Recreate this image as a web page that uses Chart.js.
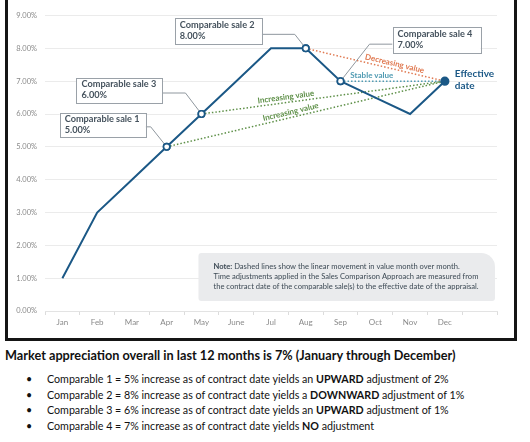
<!DOCTYPE html>
<html>
<head>
<meta charset="utf-8">
<script src="https://cdn.jsdelivr.net/npm/chart.js@4/dist/chart.umd.min.js"></script>
<style>
  html, body { margin: 0; padding: 0; background: #ffffff; width: 530px; height: 442px; overflow: hidden; font-family: Lato, "Noto Sans", sans-serif; }
  #frame { position: absolute; left: 5px; top: -5px; width: 506px; height: 340px; border: 3px solid #151515; background: #fff; }
  #chartWrap { position: absolute; left: 0; top: 5px; width: 506px; height: 335px; }
  #summary { position: absolute; left: 5px; top: 347px; font-size: 12.7px; font-weight: bold; color: #111; white-space: nowrap; }
  #bullets { position: absolute; left: 0; top: 371px; margin: 0; padding: 0; list-style: none; font-size: 10.7px; color: #111; }
  #bullets li { position: relative; height: 15.5px; line-height: 15.5px; padding-left: 47px; white-space: nowrap; }
  #bullets li::before { content: "\2022"; position: absolute; left: 26px; top: 0; }
</style>
</head>
<body>
<div id="frame"><div id="chartWrap"><canvas id="c" width="506" height="335"></canvas></div></div>
<div id="summary">Market appreciation overall in last 12 months is 7% (January through December)</div>
<ul id="bullets">
  <li>Comparable 1 = 5% increase as of contract date yields an <b>UPWARD</b> adjustment of 2%</li>
  <li>Comparable 2 = 8% increase as of contract date yields a <b>DOWNWARD</b> adjustment of 1%</li>
  <li>Comparable 3 = 6% increase as of contract date yields an <b>UPWARD</b> adjustment of 1%</li>
  <li>Comparable 4 = 7% increase as of contract date yields <b>NO</b> adjustment</li>
</ul>
<script>
// ---- data ----
const months = ['Jan', 'Feb', 'Mar', 'Apr', 'May', 'June', 'Jul', 'Aug', 'Sep', 'Oct', 'Nov', 'Dec', ''];
const marketValues = [1, 3, 4, 5, 6, 7, 8, 8, 7, 6.5, 6, 7];
const compNames = ['Comparable sale 1', 'Comparable sale 2', 'Comparable sale 3', 'Comparable sale 4'];
const compMonths = ['Apr', 'Aug', 'May', 'Sep'];
const compValues = [5, 8, 6, 7];
const trendLabels = ['Increasing value', 'Decreasing value', 'Increasing value', 'Stable value'];
const effectiveMonth = 'Dec';
const effectiveValue = 7;
const effectiveLabel = ['Effective', 'date'];
const yMin = 0, yMax = 9, yStep = 1;
const noteLines = [
  ['Note:', ' Dashed lines show the linear movement in value month over month.'],
  ['', 'Time adjustments applied in the Sales Comparison Approach are measured from'],
  ['', 'the contract date of the comparable sale(s) to the effective date of the appraisal.']
];

// ---- styles ----
const FONT = 'Lato, "Noto Sans", sans-serif';
const mainColor = '#1b5886';
const trendColors = { 'Increasing value': '#5e9048', 'Decreasing value': '#e07a52', 'Stable value': '#4f9ab2' };
const boxStyle = [
  { dx: -21, dy: -34, elbow: -16, ly: -20, side: 'right', w: 86, h: 24 },
  { dx: -44, dy: -30, elbow: -11, ly: -14, side: 'right', w: 87, h: 26 },
  { dx: -39, dy: -36, elbow: -16, ly: -21, side: 'right', w: 86, h: 25 },
  { dx: 52, dy: -54, elbow: 29, ly: -37, side: 'left', w: 88, h: 26 }
];
const trendLabelPos = [0.45, 0.63, 0.35, 0.30];

const effIdx = months.indexOf(effectiveMonth);
const trendDatasets = compMonths.map((m, i) => {
  const arr = months.map(() => null);
  arr[months.indexOf(m)] = compValues[i];
  arr[effIdx] = effectiveValue;
  return {
    label: trendLabels[i],
    data: arr,
    borderColor: trendColors[trendLabels[i]],
    borderWidth: 1.5,
    borderDash: [1.5, 2],
    pointRadius: 0,
    spanGaps: true,
    tension: 0,
    order: 2
  };
});

const compIdx = compMonths.map(m => months.indexOf(m));
const mainData = months.map((m, i) => i < marketValues.length ? marketValues[i] : null);
const pointRadii = months.map((m, i) => compIdx.includes(i) ? 3.2 : (i === effIdx ? 3.8 : 0));
const pointFill = months.map((m, i) => i === effIdx ? mainColor : '#ffffff');

function fitFont(ctx, text, weight, targetW) {
  ctx.font = weight + ' 10px ' + FONT;
  const w = ctx.measureText(text).width;
  return weight + ' ' + (10 * targetW / w).toFixed(2) + 'px ' + FONT;
}

const annotate = {
  id: 'annotate',
  afterDatasetsDraw(chart) {
    const ctx = chart.ctx;
    const xs = chart.scales.x, ys = chart.scales.y;
    const ca = chart.chartArea;
    const ex = xs.getPixelForValue(effIdx), ey = ys.getPixelForValue(effectiveValue);
    ctx.save();
    // trend labels
    compIdx.forEach((ci, i) => {
      const x0 = xs.getPixelForValue(ci), y0 = ys.getPixelForValue(compValues[i]);
      const t = trendLabelPos[i];
      const ang = Math.atan2(ey - y0, ex - x0);
      const lx = x0 + (ex - x0) * t, ly = y0 + (ey - y0) * t;
      ctx.save();
      ctx.translate(lx, ly);
      ctx.rotate(ang);
      ctx.font = 'bold 8px ' + FONT;
      ctx.fillStyle = trendColors[trendLabels[i]];
      ctx.textAlign = 'center';
      ctx.textBaseline = 'middle';
      ctx.fillText(trendLabels[i], 0, -5.5);
      ctx.restore();
    });
    // boxes + leaders
    const boxFont = fitFont(ctx, compNames[0], 'bold', 75);
    compIdx.forEach((ci, i) => {
      const px = xs.getPixelForValue(ci), py = ys.getPixelForValue(compValues[i]);
      const s = boxStyle[i];
      const bx = s.side === 'right' ? px + s.dx - s.w : px + s.dx;
      const by = py + s.dy;
      const anchorX = s.side === 'right' ? bx + s.w : bx;
      ctx.strokeStyle = '#8f979e';
      ctx.lineWidth = 1;
      ctx.beginPath();
      ctx.moveTo(anchorX, py + s.ly);
      ctx.lineTo(px + s.elbow, py + s.ly);
      ctx.lineTo(px, py);
      ctx.stroke();
      ctx.fillStyle = '#ffffff';
      ctx.fillRect(bx, by, s.w, s.h);
      ctx.strokeStyle = '#9aa1a8';
      ctx.strokeRect(Math.round(bx) + 0.5, Math.round(by) + 0.5, s.w, s.h);
      ctx.fillStyle = '#45525d';
      ctx.font = boxFont;
      ctx.textAlign = 'left';
      ctx.textBaseline = 'middle';
      ctx.fillText(compNames[i], bx + 5, by + 6.5);
      ctx.fillText(compValues[i].toFixed(2) + '%', bx + 5, by + 17.5);
    });
    // comparable points on top of leaders
    compIdx.forEach((ci, i) => {
      const px = xs.getPixelForValue(ci), py = ys.getPixelForValue(compValues[i]);
      ctx.beginPath();
      ctx.arc(px, py, 3.2, 0, Math.PI * 2);
      ctx.fillStyle = '#fff';
      ctx.fill();
      ctx.lineWidth = 1.6;
      ctx.strokeStyle = mainColor;
      ctx.stroke();
    });
    // effective date label
    ctx.fillStyle = mainColor;
    ctx.font = 'bold 10px ' + FONT;
    ctx.textAlign = 'left';
    ctx.textBaseline = 'middle';
    ctx.fillText(effectiveLabel[0], ex + 10, ey - 7);
    ctx.fillText(effectiveLabel[1], ex + 10, ey + 5);
    // note box
    const nx = xs.getPixelForValue(4) - 3, nr = ca.right - 2;
    const ny = ca.bottom - 58, nb = ca.bottom - 10;
    ctx.fillStyle = '#eaebed';
    ctx.beginPath();
    ctx.roundRect(nx, ny, nr - nx, nb - ny, [3, 14, 3, 3]);
    ctx.fill();
    ctx.fillStyle = '#3d4a55';
    ctx.textBaseline = 'middle';
    const noteFont = fitFont(ctx, noteLines[1][1], 'normal', 265);
    const noteBold = noteFont.replace('normal', 'bold');
    noteLines.forEach((ln, k) => {
      let x = nx + 15;
      const y = ny + 14 + k * 10;
      if (ln[0]) {
        ctx.font = noteBold;
        ctx.fillText(ln[0], x, y);
        x += ctx.measureText(ln[0]).width;
      }
      ctx.font = noteFont;
      ctx.fillText(ln[1], x, y);
    });
    ctx.restore();
  }
};

new Chart(document.getElementById('c'), {
  type: 'line',
  data: {
    labels: months,
    datasets: [{
      label: 'Market value',
      data: mainData,
      borderColor: mainColor,
      borderWidth: 2,
      tension: 0,
      pointRadius: pointRadii,
      pointBackgroundColor: pointFill,
      pointBorderColor: mainColor,
      pointBorderWidth: 1.6,
      order: 1
    }, ...trendDatasets]
  },
  options: {
    responsive: false,
    animation: false,
    devicePixelRatio: 1,
    layout: { padding: { top: 11, right: 17, left: 0, bottom: 0 } },
    plugins: { legend: { display: false }, tooltip: { enabled: false } },
    scales: {
      x: {
        offset: true,
        grid: { offset: true, drawOnChartArea: false, drawTicks: true, tickLength: 4, color: '#dcdcdc' },
        border: { display: true, color: '#e3e3e3' },
        ticks: { color: '#8a8a8a', font: { family: FONT, size: 8 }, padding: 3, maxRotation: 0, autoSkip: false },
        afterFit(s) { s.height = 27; }
      },
      y: {
        min: yMin, max: yMax,
        ticks: { stepSize: yStep, color: '#8a8a8a', font: { family: FONT, size: 7.5 }, padding: 8, callback: v => v.toFixed(2) + '%' },
        grid: { color: '#ebebeb', drawTicks: false },
        border: { display: false },
        afterFit(s) { s.width = 37; }
      }
    }
  },
  plugins: [annotate]
});
</script>
</body>
</html>
